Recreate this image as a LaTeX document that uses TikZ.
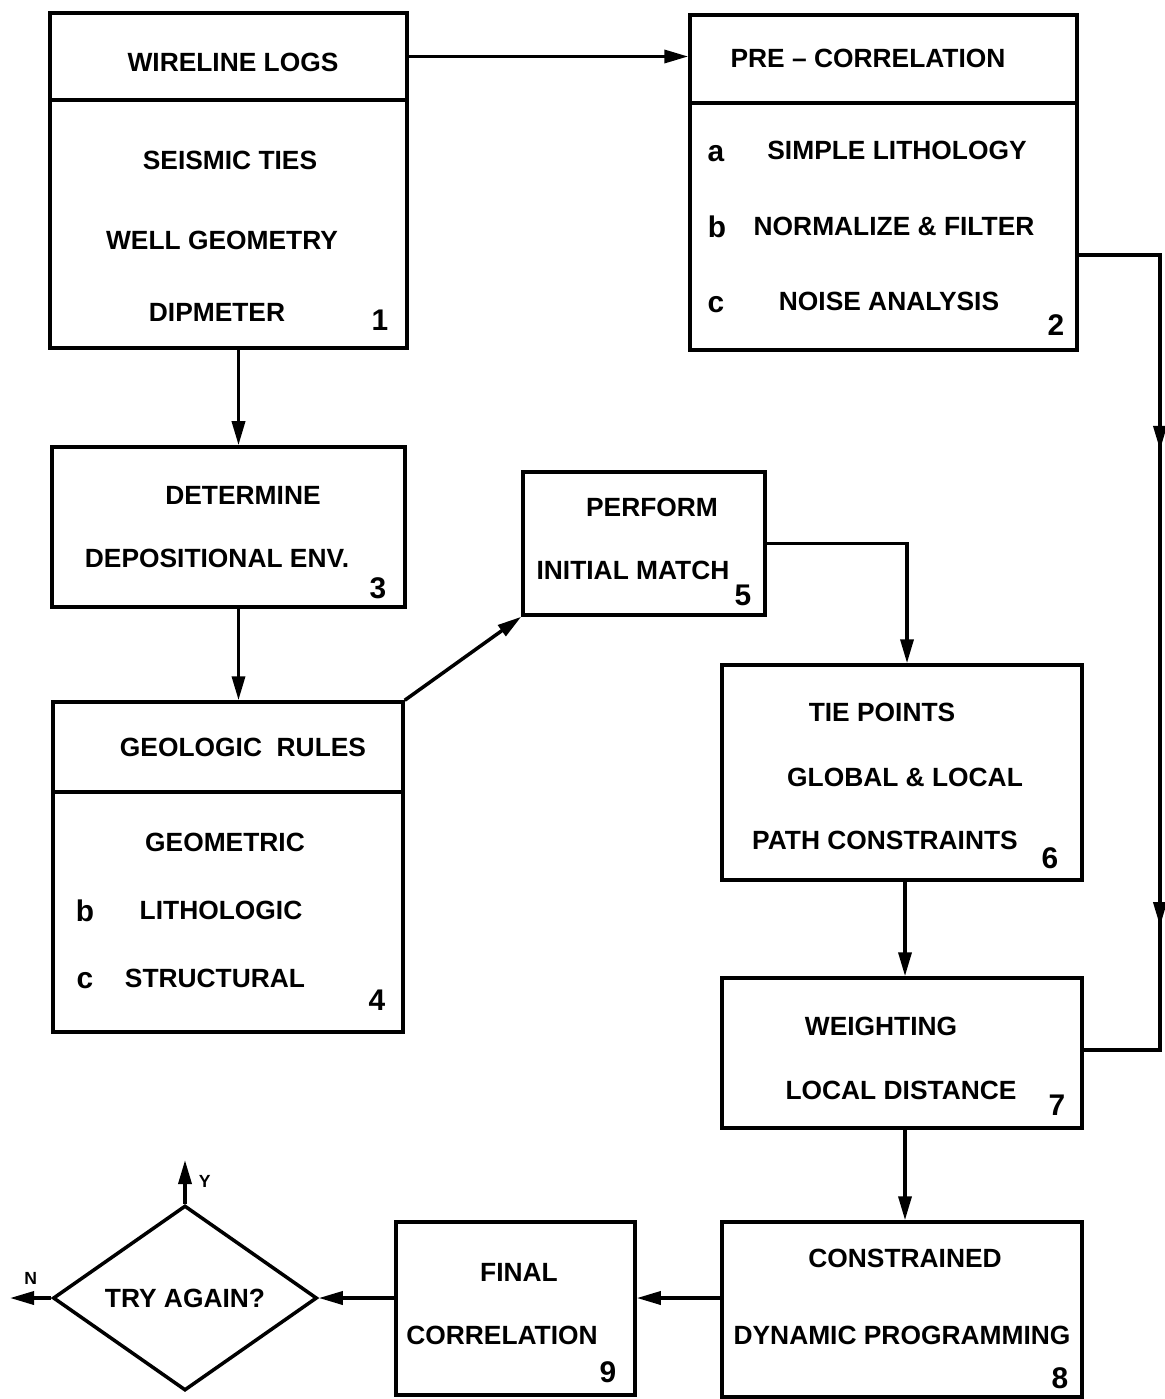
\documentclass[tikz,border=0pt]{standalone}
\usepackage{fontspec}
\setmainfont{Liberation Sans}
\usetikzlibrary{arrows.meta, shapes.geometric, decorations.markings}

\tikzset{
  box/.style={draw, line width=1pt, inner sep=0pt},
  txt/.style={font=\bfseries\fontsize{7.5}{9}\selectfont, inner sep=0pt},
  num/.style={font=\bfseries\fontsize{8.5}{10}\selectfont, inner sep=0pt},
  tag/.style={font=\bfseries\fontsize{5}{6}\selectfont, inner sep=0pt},
  arr/.style={-{Triangle[length=2.4mm,width=1.3mm]}, line width=1pt},
  fbline/.style={line width=1pt, postaction={decorate}, decoration={markings,
      mark=at position 0.29 with {\arrow{Triangle[length=2.4mm,width=1.3mm]}},
      mark=at position 0.79 with {\arrow{Triangle[length=2.4mm,width=1.3mm]}}}},
}

\begin{document}
\begin{tikzpicture}[x=0.1mm, y=-0.1mm]
\useasboundingbox (0,0) rectangle (1164,1399);

\node[box, minimum width=35.7mm, minimum height=8.7mm] (wirehead) at (228.5,56.5) {};
\node[box, minimum width=35.7mm, minimum height=24.8mm] (wirebody) at (228.5,224) {};
\node[box, minimum width=38.7mm, minimum height=8.8mm] (prehead) at (883.5,59) {};
\node[box, minimum width=38.7mm, minimum height=24.7mm] (prebody) at (883.5,226.5) {};
\node[box, minimum width=35.3mm, minimum height=16mm] (depo) at (228.5,527) {};
\node[box, minimum width=35mm, minimum height=9mm] (geohead) at (228,747) {};
\node[box, minimum width=35mm, minimum height=24mm] (geobody) at (228,912) {};
\node[box, minimum width=24.2mm, minimum height=14.3mm] (perform) at (644,543.5) {};
\node[box, minimum width=36mm, minimum height=21.5mm] (tie) at (902,772.5) {};
\node[box, minimum width=36mm, minimum height=15mm] (weight) at (902,1053) {};
\node[box, minimum width=36mm, minimum height=17.5mm] (dyn) at (902,1309.5) {};
\node[box, minimum width=23.9mm, minimum height=17.3mm] (fin) at (515.5,1308.5) {};
\node[box, diamond, aspect=1.43, minimum width=26.4mm, minimum height=18.5mm, txt] (trydec) at (185,1298) {TRY AGAIN?};

\node[txt] (wlogs) at (233,62) {WIRELINE LOGS};
\node[txt] (seis) at (230,160) {SEISMIC TIES};
\node[txt] (wellg) at (222,240) {WELL GEOMETRY};
\node[txt] (dipm) at (217,312) {DIPMETER};
\node[num] (n1) at (380,320) {1};

\node[txt] (precorr) at (868,58) {PRE -- CORRELATION};
\node[num] (la) at (716,154) {a};
\node[txt] (simlith) at (897,150) {SIMPLE LITHOLOGY};
\node[num] (lb) at (717,227) {b};
\node[txt] (normf) at (894,226) {NORMALIZE \& FILTER};
\node[num] (lc) at (716,305) {c};
\node[txt] (noise) at (889,301) {NOISE ANALYSIS};
\node[num] (n2) at (1056,325) {2};

\node[txt] (determ) at (243,495) {DETERMINE};
\node[txt] (depenv) at (217,558) {DEPOSITIONAL ENV.};
\node[num] (n3) at (378,588) {3};

\node[txt] (georules) at (243,747) {GEOLOGIC\ \ RULES};
\node[txt] (geomet) at (225,842) {GEOMETRIC};
\node[num] (lb4) at (85,911) {b};
\node[txt] (litho) at (221,910) {LITHOLOGIC};
\node[num] (lc4) at (85,981) {c};
\node[txt] (struct) at (215,978) {STRUCTURAL};
\node[num] (n4) at (377,1000) {4};

\node[txt] (perf) at (652,507) {PERFORM};
\node[txt] (initm) at (633,570) {INITIAL MATCH};
\node[num] (n5) at (743,595) {5};

\node[txt] (tiep) at (882,712) {TIE POINTS};
\node[txt] (globl) at (905,777) {GLOBAL \& LOCAL};
\node[txt] (pathc) at (885,840) {PATH CONSTRAINTS};
\node[num] (n6) at (1050,858) {6};

\node[txt] (weighting) at (881,1026) {WEIGHTING};
\node[txt] (locd) at (901,1090) {LOCAL DISTANCE};
\node[num] (n7) at (1057,1105) {7};

\node[txt] (constr) at (905,1258) {CONSTRAINED};
\node[txt] (dynprog) at (902,1335) {DYNAMIC PROGRAMMING};
\node[num] (n8) at (1060,1378) {8};

\node[txt] (final) at (519,1272) {FINAL};
\node[txt] (correl) at (502,1335) {CORRELATION};
\node[num] (n9) at (608,1372) {9};

\coordinate (yes) at (185,1160);
\coordinate (no) at (10,1298);
\coordinate (fbtop) at (1160,255);
\coordinate (fbbot) at (1160,1050);

\draw[arr] (wirehead.east) -- (wirehead.east -| prehead.west);
\draw[arr] ([xshift=1mm]wirebody.south) -- ([xshift=1mm]wirebody.south |- depo.north);
\draw[arr] ([xshift=1mm]depo.south) -- ([xshift=1mm]depo.south |- geohead.north);
\draw[arr] (geohead.north east) -- (perform.south west);
\draw[arr] (perform.east) -| ([xshift=0.5mm]tie.north);
\draw[arr] ([xshift=0.3mm]tie.south) -- ([xshift=0.3mm]weight.north);
\draw[arr] ([xshift=0.3mm]weight.south) -- ([xshift=0.3mm]dyn.north);
\draw[arr] (dyn.west |- trydec) -- (fin.east |- trydec);
\draw[arr] (fin.west |- trydec) -- (trydec.east);
\draw[arr] (trydec.north) -- (yes) node[tag, pos=0.5, right=1.2mm] (ylab) {Y};
\draw[arr] (trydec.west) -- (no) node[tag, pos=0.5, above=1.2mm] (nlab) {N};
\draw[fbline] (prebody.east |- fbtop) -- (fbtop) -- (fbbot) -- (weight.east |- fbbot);
\end{tikzpicture}
\end{document}
